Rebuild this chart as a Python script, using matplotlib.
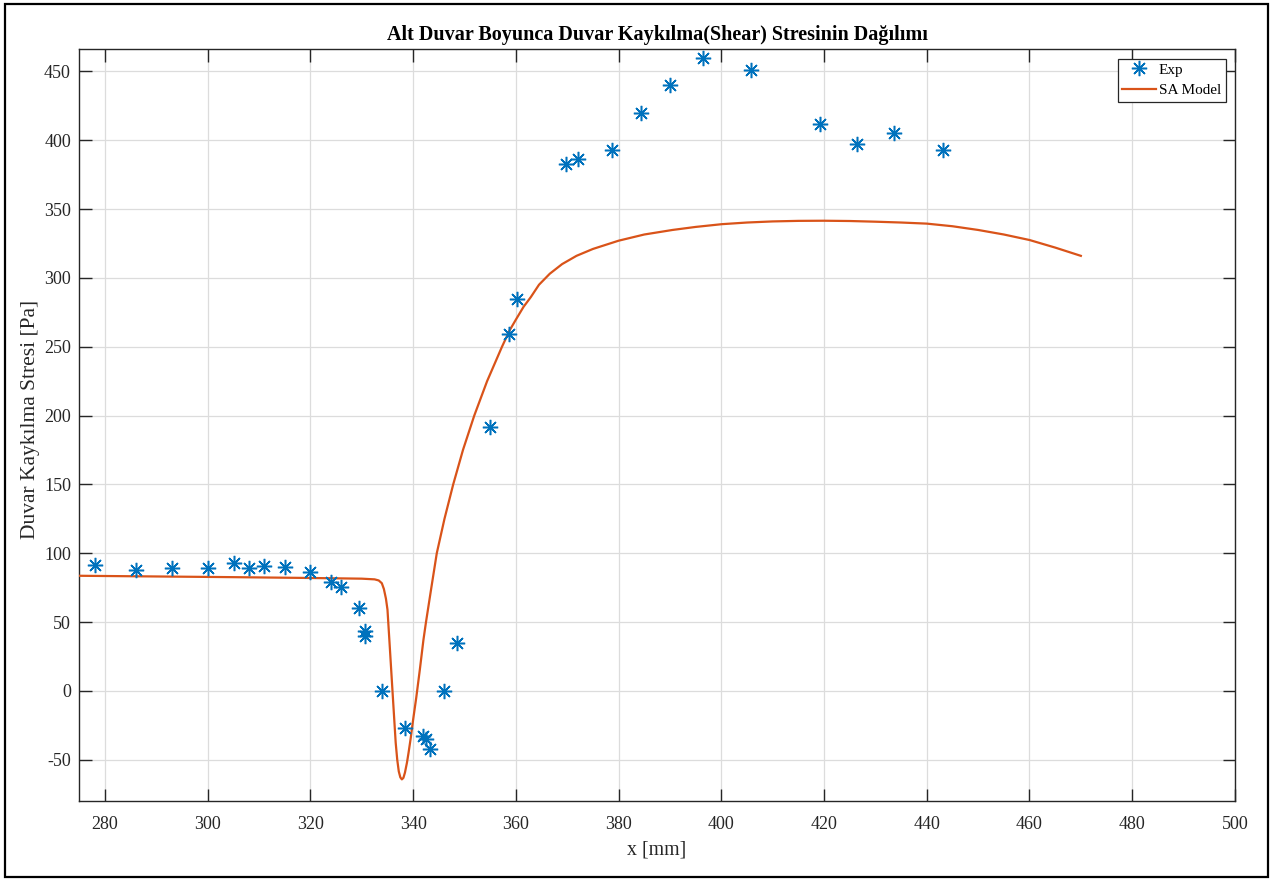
import matplotlib
matplotlib.use("Agg")
import matplotlib.pyplot as plt
from matplotlib.patches import Rectangle

# Experimental data
exp_x = [278.1, 286.0, 293.0, 300.0, 305.1, 308.0, 311.0, 315.0, 320.0, 324.0,
         326.0, 329.5, 330.7, 330.7, 334.0, 338.4, 341.9, 342.5, 343.2, 346.0,
         348.5, 355.0, 358.6, 360.2, 369.8, 372.0, 378.8, 384.3, 390.1, 396.5,
         405.8, 419.3, 426.5, 433.7, 443.2]
exp_y = [91.5, 88.0, 89.0, 89.0, 93.0, 89.0, 91.0, 90.0, 86.0, 79.4,
         75.8, 60.1, 43.2, 40.0, 0.0, -26.8, -32.9, -34.6, -42.0, 0.0,
         34.8, 191.7, 259.4, 284.8, 383.0, 386.0, 393.0, 420.0, 440.0, 460.0,
         451.0, 412.0, 397.0, 405.0, 393.0]

# SA model curve
sa_x = [275.0, 290.0, 305.0, 320.0, 330.0, 332.5, 333.3, 333.9, 334.3, 334.7,
        335.0, 335.4, 335.8, 336.2, 336.6, 336.9, 337.2, 337.5, 337.8, 338.1,
        338.4, 338.8, 339.1, 339.5, 340.0, 340.6, 341.3, 342.0, 342.5, 343.5,
        344.6, 346.1, 347.8, 349.7, 351.9, 354.4, 357.3, 358.8, 360.1, 361.5,
        362.9, 364.5, 366.6, 369.0, 371.8, 375.0, 380.0, 385.0, 390.5, 395.0,
        400.1, 405.0, 410.0, 415.0, 420.0, 425.0, 430.0, 435.0, 440.0, 445.0,
        450.0, 455.0, 460.0, 465.0, 470.0]
sa_y = [83.6, 83.1, 82.6, 82.0, 81.5, 81.0, 80.2, 78.2, 74.0, 67.0,
        59.0, 35.0, 10.6, -13.6, -37.7, -50.0, -58.5, -62.8, -64.3, -63.2,
        -59.4, -52.0, -45.0, -35.0, -20.8, -5.0, 15.4, 37.0, 50.0, 74.0,
        100.0, 125.0, 150.0, 175.0, 200.0, 225.0, 250.0, 262.0, 270.3, 279.0,
        286.0, 295.0, 303.0, 310.0, 316.0, 321.0, 327.0, 331.5, 334.8, 337.0,
        339.0, 340.2, 341.0, 341.4, 341.5, 341.3, 340.8, 340.2, 339.4, 337.5,
        334.8, 331.5, 327.5, 322.0, 316.0]

x_ticks = [280, 300, 320, 340, 360, 380, 400, 420, 440, 460, 480, 500]
y_ticks = [-50, 0, 50, 100, 150, 200, 250, 300, 350, 400, 450]

plt.rcParams['font.family'] = ['Liberation Serif', 'DejaVu Serif']
plt.rcParams['axes.unicode_minus'] = False

fig = plt.figure(figsize=(12.73, 8.81), dpi=100)
ax = fig.add_axes([0.0623, 0.0908, 0.9078, 0.8532])

ax.plot(sa_x, sa_y, color='#D95319', linewidth=1.6, label='SA Model', zorder=3,
        solid_joinstyle='round')
ax.plot(exp_x, exp_y, linestyle='none', marker=(8, 2, 0), markersize=11,
        markeredgewidth=1.1, color='#0072BD', label='Exp', zorder=4)

ax.set_xlim(275, 500)
ax.set_ylim(-80, 466)
ax.set_xticks(x_ticks)
ax.set_yticks(y_ticks)
ax.grid(True, color='#dcdcdc', linewidth=0.9)
ax.set_axisbelow(True)
ax.tick_params(direction='in', length=9, width=1.0, labelsize=13,
               top=True, right=True, colors='#262626')
ax.tick_params(axis='y', pad=6)
ax.tick_params(axis='x', pad=11)
for s in ax.spines.values():
    s.set_color('#262626')
    s.set_linewidth(1.0)

ax.set_xlabel('x [mm]', fontsize=14.3, color='#262626', labelpad=5)
ax.set_ylabel('Duvar Kaykılma Stresi [Pa]', fontsize=15.5, color='#262626')
ax.yaxis.set_label_coords(-0.034, 0.507)
ax.set_title('Alt Duvar Boyunca Duvar Kaykılma(Shear) Stresinin Dağılımı',
             fontsize=14.5, fontweight='bold', pad=7)

h, l = ax.get_legend_handles_labels()
leg = ax.legend([h[1], h[0]], [l[1], l[0]], loc='upper right', fontsize=11,
                fancybox=False, edgecolor='#262626', framealpha=1,
                borderpad=0.3, handlelength=2.2, labelspacing=0.45,
                handletextpad=0.2, borderaxespad=0.6)
leg.get_frame().set_linewidth(0.9)

fig.patches.append(Rectangle((5 / 1273, 4 / 881), 1263 / 1273, 873 / 881,
                             transform=fig.transFigure, fill=False,
                             edgecolor='black', linewidth=1.6))

fig.savefig('out.png', dpi=100)
